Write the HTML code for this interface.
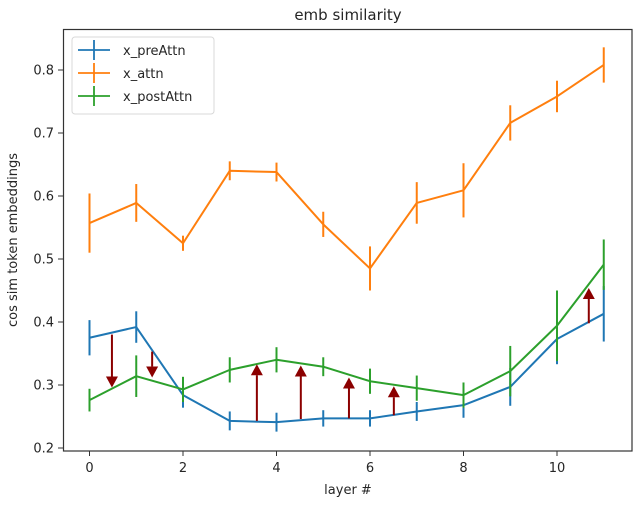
<!DOCTYPE html>
<html><head><meta charset="utf-8"><style>
html,body{margin:0;padding:0;background:#fff;}
svg text{font-family:"DejaVu Sans","Liberation Sans",sans-serif;fill:#262626;}
</style></head><body>
<svg id="chart" width="640" height="502" viewBox="0 0 640 502" xmlns="http://www.w3.org/2000/svg">
<text x="348" y="20" font-size="15" text-anchor="middle">emb similarity</text>
<text x="348" y="494" font-size="13" text-anchor="middle">layer #</text>
<text x="0" y="0" font-size="13" text-anchor="middle" transform="translate(17,240) rotate(-90)">cos sim token embeddings</text>
<g id="plot"></g>
<rect x="63.5" y="29.5" width="568.5" height="421.5" fill="none" stroke="#333" stroke-width="1.2"/>
<g>
<rect x="72" y="37" width="142" height="77" rx="3" fill="#fff" fill-opacity="0.85" stroke="#d8d8d8"/>
<g><line x1="78" y1="50" x2="110" y2="50" stroke="#1f77b4" stroke-width="1.8"/><line x1="94" y1="40" x2="94" y2="60" stroke="#1f77b4" stroke-width="1.8"/><text x="123" y="55" font-size="13">x_preAttn</text></g>
<g><line x1="78" y1="73" x2="110" y2="73" stroke="#ff7f0e" stroke-width="1.8"/><line x1="94" y1="63" x2="94" y2="83" stroke="#ff7f0e" stroke-width="1.8"/><text x="123" y="78" font-size="13">x_attn</text></g>
<g><line x1="78" y1="96" x2="110" y2="96" stroke="#2ca02c" stroke-width="1.8"/><line x1="94" y1="86" x2="94" y2="106" stroke="#2ca02c" stroke-width="1.8"/><text x="123" y="101" font-size="13">x_postAttn</text></g>
</g>
</svg>
<script>
const layers = [0,1,2,3,4,5,6,7,8,9,10,11];
const preAttn = [0.375,0.392,0.284,0.243,0.241,0.247,0.247,0.258,0.268,0.297,0.373,0.413];
const preAttnErr = [0.028,0.025,0.02,0.015,0.015,0.013,0.013,0.015,0.02,0.03,0.04,0.044];
const attn = [0.557,0.589,0.525,0.640,0.638,0.555,0.485,0.589,0.609,0.716,0.758,0.808];
const attnErr = [0.047,0.03,0.012,0.015,0.015,0.02,0.035,0.033,0.043,0.028,0.025,0.028];
const postAttn = [0.276,0.314,0.293,0.324,0.340,0.329,0.306,0.295,0.284,0.322,0.394,0.491];
const postAttnErr = [0.018,0.033,0.02,0.02,0.02,0.015,0.02,0.02,0.02,0.04,0.056,0.04];
const arrowX = [0.48,1.34,3.58,4.52,5.55,6.51,10.68];
const arrowFrom = [0.380,0.353,0.243,0.246,0.247,0.252,0.398];
const arrowTo = [0.296,0.312,0.333,0.331,0.312,0.298,0.454];
const xTicks = [0,2,4,6,8,10];
const yTicks = [0.2,0.3,0.4,0.5,0.6,0.7,0.8];
const yTickLabels = ["0.2","0.3","0.4","0.5","0.6","0.7","0.8"];

const NS="http://www.w3.org/2000/svg";
const plot=document.getElementById('plot');
const X=v=>89.5+v*46.75;
const Y=v=>448-(v-0.2)*630;
function mk(tag,attrs,parent){const e=document.createElementNS(NS,tag);for(const k in attrs)e.setAttribute(k,attrs[k]);(parent||plot).appendChild(e);return e;}

xTicks.forEach(t=>{
  const g=mk('g',{});
  
  
  mk('line',{x1:X(t),x2:X(t),y1:451,y2:456,stroke:'#333','stroke-width':1},g);
  const tx=mk('text',{x:X(t),y:472,'font-size':13,'text-anchor':'middle'},g);tx.textContent=t;
});
yTicks.forEach((t,i)=>{
  const g=mk('g',{});
  
  
  mk('line',{x1:58,x2:63.5,y1:Y(t),y2:Y(t),stroke:'#333','stroke-width':1},g);
  const tx=mk('text',{x:54,y:Y(t)+4.5,'font-size':13,'text-anchor':'end'},g);tx.textContent=yTickLabels[i];
});

function series(vals,errs,color,name){
  const g=mk('g',{});
  
  
  const p=mk('polyline',{points:vals.map((v,i)=>X(layers[i])+','+Y(v)).join(' '),fill:'none',stroke:color,'stroke-width':2,'stroke-linejoin':'round'},g);
  
  
  vals.forEach((v,i)=>{
    const l=mk('line',{x1:X(layers[i]),x2:X(layers[i]),y1:Y(v-errs[i]),y2:Y(v+errs[i]),stroke:color,'stroke-width':2},g);
    
    
  });
}
series(preAttn,preAttnErr,'#1f77b4','x-preattn');
series(attn,attnErr,'#ff7f0e','x-attn');
series(postAttn,postAttnErr,'#2ca02c','x-postattn');

arrowX.forEach((a,i)=>{
  const g=mk('g',{});
  
  
  const x=X(a),y0=Y(arrowFrom[i]),y1=Y(arrowTo[i]);
  const dir=y1>y0?1:-1;
  const hl=11;
  mk('line',{x1:x,x2:x,y1:y0,y2:y1-dir*hl,stroke:'#8b0000','stroke-width':2},g);
  mk('polygon',{points:`${x-6},${y1-dir*hl} ${x+6},${y1-dir*hl} ${x},${y1}`,fill:'#8b0000'},g);
});
</script>
</body></html>
